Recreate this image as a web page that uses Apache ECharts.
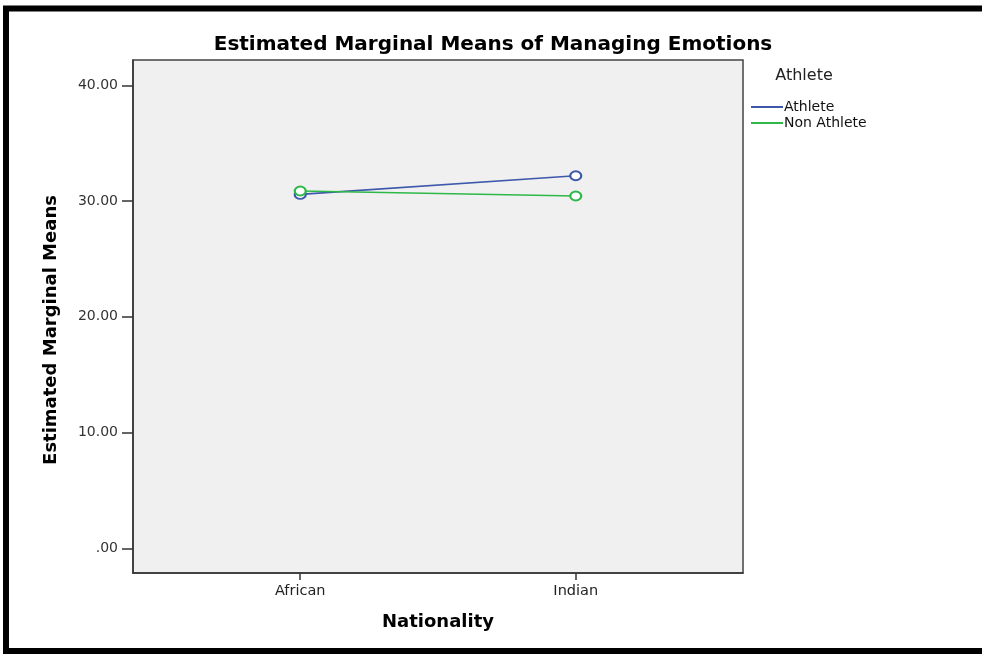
<!DOCTYPE html>
<html>
<head>
<meta charset="utf-8">
<script src="https://cdn.jsdelivr.net/npm/echarts@6/dist/echarts.min.js"></script>
<style>html,body{margin:0;padding:0;background:#fff;}#c{width:982px;height:654px;}</style>
</head>
<body>
<div id="c"></div>
<script>
const categories = ['African', 'Indian'];
const seriesNames = ['Athlete', 'Non Athlete'];
const athleteValues = [30.58, 32.19];
const nonAthleteValues = [30.87, 30.44];
const yTickValues = [0, 10, 20, 30, 40];
const yTickLabels = ['.00', '10.00', '20.00', '30.00', '40.00'];

const FONT = '"DejaVu Sans", sans-serif';
const chart = echarts.init(document.getElementById('c'), null, {renderer: 'canvas'});

function pts(vals) { return vals.map((v, i) => [i, v]); }

chart.setOption({
  animation: false,
  backgroundColor: '#ffffff',
  grid: {left: 133, top: 60, right: 239, bottom: 81, show: true, backgroundColor: '#F0F0F0', borderColor: '#444', borderWidth: 1.5},
  legend: {
    orient: 'vertical', left: 746, top: 95, itemWidth: 32, itemHeight: 2, itemGap: 2, icon: 'rect',
    textStyle: {fontFamily: FONT, fontSize: 14, color: '#111', padding: [0, 0, 0, -4]},
    data: seriesNames
  },
  xAxis: {
    type: 'value', min: -0.607, max: 1.607,
    splitLine: {show: false},
    axisLine: {show: true, onZero: false, lineStyle: {color: '#333', width: 1.5}},
    axisTick: {show: true, length: 7, lineStyle: {color: '#333', width: 1.5}, customValues: [0, 1]},
    axisLabel: {customValues: [0, 1], formatter: v => categories[Math.round(v)], margin: 11, fontFamily: FONT, fontSize: 14.5, color: '#222'}
  },
  yAxis: {
    type: 'value', min: -2.13, max: 42.19,
    splitLine: {show: false},
    axisLine: {show: true, onZero: false, lineStyle: {color: '#333', width: 1.5}},
    axisTick: {show: true, length: 11, lineStyle: {color: '#333', width: 1.5}, customValues: yTickValues},
    axisLabel: {customValues: yTickValues, formatter: v => yTickLabels[yTickValues.indexOf(Math.round(v))], margin: 15, fontFamily: FONT, fontSize: 14, color: '#333'}
  },
  series: [
    {name: seriesNames[0], type: 'line', data: pts(athleteValues), symbol: 'emptyCircle', symbolSize: [11, 9],
     itemStyle: {color: '#3E58AC', borderWidth: 1.5}, lineStyle: {color: '#3E58AC', width: 1.6}},
    {name: seriesNames[1], type: 'line', data: pts(nonAthleteValues), symbol: 'emptyCircle', symbolSize: [11, 9],
     itemStyle: {color: '#2EB848', borderWidth: 1.5}, lineStyle: {color: '#2EB848', width: 1.6}}
  ],
  graphic: [
    {type: 'rect', shape: {x: 6, y: 8.5, width: 1000, height: 642.5}, style: {fill: 'none', stroke: '#000', lineWidth: 6}, silent: true},
    {type: 'text', x: 493, y: 45, style: {text: 'Estimated Marginal Means of Managing Emotions', font: 'bold 20px ' + FONT, fill: '#000', align: 'center', verticalAlign: 'middle'}},
    {type: 'text', x: 438, y: 622, style: {text: 'Nationality', font: 'bold 18px ' + FONT, fill: '#000', align: 'center', verticalAlign: 'middle'}},
    {type: 'text', x: 51, y: 330, rotation: Math.PI / 2, style: {text: 'Estimated Marginal Means', font: 'bold 18px ' + FONT, fill: '#000', align: 'center', verticalAlign: 'middle'}},
    {type: 'text', x: 804, y: 76, style: {text: 'Athlete', font: '16px ' + FONT, fill: '#222', align: 'center', verticalAlign: 'middle'}}
  ]
});
</script>
</body>
</html>
